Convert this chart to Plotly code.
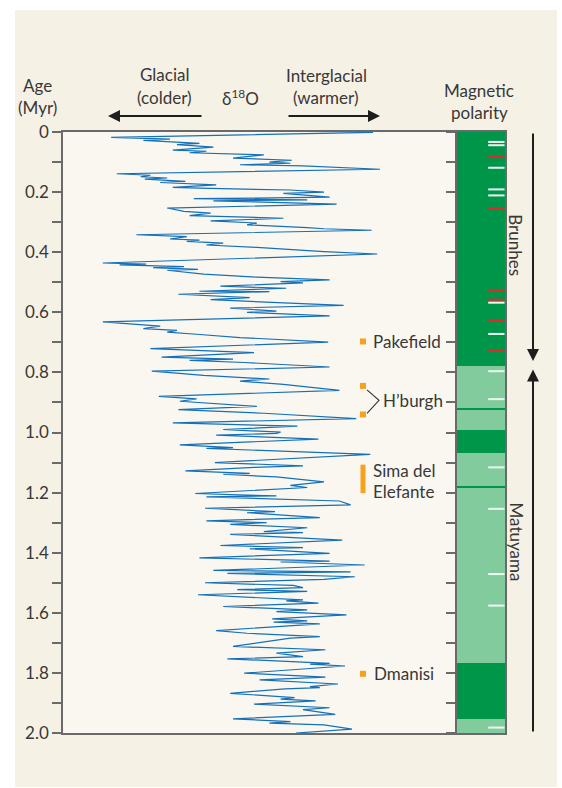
import plotly.graph_objects as go

# ---------------- data ----------------
# benthic d18O stack: age (kyr) and d18O (per mil, higher = glacial)
age_kyr = [1, 18, 24, 28, 38, 42, 50, 60, 64, 69, 76, 87, 94, 100, 104, 109, 113, 124,
           139, 144, 149, 153, 157, 164, 168, 176, 184, 187, 193, 200, 204, 217, 222, 226, 229, 240,
           253, 264, 270, 278, 287, 296, 303, 309, 318, 322, 327,
           342, 348, 356, 360, 364, 370, 376, 384, 398, 406,
           436, 440, 442, 448, 451, 457, 460, 473, 479, 483, 492, 498, 502, 513, 520, 530, 531,
           540, 551, 558, 577, 586, 596, 600, 612,
           632, 646, 654, 660, 666, 673, 684, 699, 721, 734, 749, 756, 760, 767, 782,
           796, 810, 822, 829, 840, 860, 880, 888, 896, 913, 924, 936, 954,
           968, 979, 990, 999,
           1003, 1009, 1022, 1041, 1050, 1053, 1073, 1100, 1111, 1116, 1128, 1136, 1139, 1148,
           1164, 1176, 1183, 1203, 1211, 1214, 1228, 1241, 1252, 1263, 1267, 1283, 1294, 1300,
           1306, 1317, 1330, 1333, 1339, 1358, 1376, 1383, 1387, 1402, 1417, 1428, 1431, 1441,
           1459, 1464, 1469, 1480, 1489, 1500, 1509,
           1516, 1523, 1529, 1540, 1557, 1560, 1568, 1579, 1590, 1596, 1607, 1620, 1627, 1631,
           1637, 1659, 1668, 1679, 1684, 1712, 1723, 1734, 1746, 1753, 1768, 1771, 1777, 1801,
           1814, 1823, 1837, 1846, 1849, 1853, 1868, 1882, 1887, 1893, 1904, 1916, 1922, 1938,
           1953, 1962, 1967, 1973, 1987, 2000]
d18o = [3.15, 5.02, 4.60, 4.79, 4.39, 4.55, 4.29, 4.58, 4.34, 4.46, 3.93, 4.15, 3.73, 3.89, 3.74, 4.10, 3.65, 3.10,
        4.98, 4.74, 4.81, 4.62, 4.78, 4.49, 4.67, 4.27, 4.58, 4.39, 3.74, 3.50, 3.79, 3.46, 4.43, 3.62, 4.29, 3.41,
        4.62, 4.50, 4.31, 4.46, 3.79, 4.31, 3.98, 4.05, 3.62, 3.50, 3.16,
        4.84, 4.48, 4.60, 4.39, 4.48, 4.22, 4.34, 3.98, 3.50, 3.12,
        5.08, 4.77, 4.96, 4.50, 4.72, 4.40, 4.62, 4.36, 4.17, 3.98, 3.46, 3.81, 3.65, 4.24, 3.77, 4.39, 3.89,
        4.54, 4.03, 4.31, 3.36, 4.17, 3.84, 4.05, 3.46,
        5.08, 4.67, 4.79, 4.55, 4.62, 4.41, 4.10, 3.47, 4.74, 4.00, 4.66, 4.15, 4.46, 4.07, 3.46,
        4.73, 4.36, 3.89, 4.10, 3.79, 3.39, 4.68, 4.41, 4.53, 3.98, 4.54, 3.93, 3.27,
        4.58, 3.69, 4.22, 3.81,
        3.84, 4.27, 3.54, 4.53, 4.15, 4.34, 3.17, 4.28, 3.65, 4.00, 4.49, 4.03, 4.22, 3.84,
        3.50, 3.74, 3.62, 4.42, 3.84, 4.34, 3.39, 3.31, 4.35, 3.85, 4.05, 3.53, 4.34, 3.91,
        4.17, 3.62, 3.93, 3.65, 4.17, 3.37, 4.24, 3.65, 4.03, 3.46, 4.39, 3.46, 3.81, 3.21,
        4.29, 3.31, 4.19, 3.28, 3.50, 4.35, 3.72,
        3.65, 4.12, 3.62, 4.40, 3.65, 3.77, 3.54, 4.22, 3.62, 3.84, 3.34, 3.87, 3.62, 3.86,
        3.53, 4.27, 4.05, 3.53, 3.74, 4.15, 3.49, 3.84, 3.65, 4.19, 3.46, 3.60, 3.35, 4.07,
        3.49, 3.96, 3.40, 3.60, 3.53, 3.78, 4.17, 3.71, 3.81, 3.56, 4.00, 3.46, 3.65, 3.42,
        4.15, 3.74, 3.89, 3.50, 3.30, 3.70]

# magnetic polarity (Myr): chron start, end, normal polarity?
chron_start = [0.00, 0.78, 0.920, 0.993, 1.069, 1.179, 1.767, 1.952]
chron_end = [0.78, 2.00, 0.926, 1.069, 1.767, 1.185, 1.952, 2.00]
chron_normal = [True, False, True, True, False, True, True, False]

# short excursion marks (Myr)
white_marks = [0.033, 0.044, 0.119, 0.191, 0.211, 0.568, 0.672, 0.796, 0.889,
               1.116, 1.254, 1.471, 1.576, 1.982]
red_marks = [0.080, 0.254, 0.527, 0.558, 0.628, 0.727]

# hominin sites (Myr)
site_points_names = ["Pakefield", "H'burgh a", "H'burgh b", "Dmanisi"]
site_points_age = [0.697, 0.845, 0.940, 1.803]
sima_age = [1.107, 1.202]
hburgh_bracket_age = [0.858, 0.893, 0.936]

age_ticks = [0, 0.2, 0.4, 0.6, 0.8, 1.0, 1.2, 1.4, 1.6, 1.8, 2.0]
age_ticktext = ["0", "0.2", "0.4", "0.6", "0.8", "1.0", "1.2", "1.4", "1.6", "1.8", "2.0"]
age_minor = [0.1, 0.3, 0.5, 0.7, 0.9, 1.1, 1.3, 1.5, 1.7, 1.9]

# ---------------- layout geometry (pixels) ----------------
W, H = 562, 788
L, R, T, B = 63, 505, 132, 733
SPLIT = 457
FONT = "Lato, 'Open Sans', sans-serif"
FS = 17
TXT = "#383838"
DARK_G = "#00964a"
LIGHT_G = "#82cb9d"
ORANGE = "#f7a21e"
BLUE = "#1470b8"


def px(x):
    return (x - L) / (R - L)


def py(y):
    return (B - y) / (B - T)


def d_at(xpix):  # d18O value at a horizontal pixel (curve axis scale)
    return 5.1 - (xpix - 100) / 140


split = px(SPLIT)

fig = go.Figure()

# d18O curve
fig.add_trace(go.Scatter(
    x=d18o, y=[a / 1000 for a in age_kyr], mode="lines",
    line=dict(color=BLUE, width=1.2), xaxis="x", yaxis="y", hoverinfo="skip"))

# polarity column
fig.add_trace(go.Bar(
    x=[0.5] * len(chron_start), base=chron_start,
    y=[e - s for s, e in zip(chron_start, chron_end)],
    width=1, marker=dict(color=[DARK_G if n else LIGHT_G for n in chron_normal], line=dict(width=0)),
    xaxis="x2", yaxis="y2", hoverinfo="skip"))


def seg(vals):
    xs, ys = [], []
    for v in vals:
        xs += [0.65, 0.99, None]
        ys += [v, v, None]
    return xs, ys


wx, wy = seg(white_marks)
fig.add_trace(go.Scatter(x=wx, y=wy, mode="lines", line=dict(color="#eef7f1", width=2),
                         xaxis="x2", yaxis="y2", hoverinfo="skip"))
rx, ry = seg(red_marks)
fig.add_trace(go.Scatter(x=rx, y=ry, mode="lines", line=dict(color="#e8262c", width=2),
                         xaxis="x2", yaxis="y2", hoverinfo="skip"))

# sites
SITE_D = d_at(363)
fig.add_trace(go.Scatter(
    x=[SITE_D] * len(site_points_age), y=site_points_age, mode="markers",
    marker=dict(symbol="square", size=6, color=ORANGE), xaxis="x", yaxis="y", hoverinfo="skip"))
fig.add_trace(go.Scatter(
    x=[SITE_D, SITE_D], y=sima_age, mode="lines", line=dict(color=ORANGE, width=5),
    xaxis="x", yaxis="y", hoverinfo="skip"))
fig.add_trace(go.Scatter(
    x=[d_at(367), d_at(379), d_at(367)], y=hburgh_bracket_age, mode="lines",
    line=dict(color="#333333", width=1.1), xaxis="x", yaxis="y", hoverinfo="skip"))

ann = []


def text(x, y, s, xanchor="center", size=FS, yref="paper", angle=0):
    ann.append(dict(x=px(x), y=(py(y) if yref == "paper" else y), xref="paper", yref=yref,
                    text=s, showarrow=False, xanchor=xanchor, yanchor="middle", textangle=angle,
                    font=dict(family=FONT, size=size, color=TXT)))


text(37, 85, "Age")
text(37, 107, "(Myr)")
text(164, 74, "Glacial")
text(164, 97, "(colder)")
text(240, 97, "δ<sup>18</sup>O")
text(326, 75, "Interglacial")
text(325, 97, "(warmer)")
text(479, 90, "Magnetic")
text(479, 112, "polarity")

text(371, 0.697, "Pakefield", xanchor="left", yref="y")
text(381, 0.895, "H’burgh", xanchor="left", yref="y")
text(371, 1.128, "Sima del", xanchor="left", yref="y")
text(371, 1.196, "Elefante", xanchor="left", yref="y")
text(372, 1.803, "Dmanisi", xanchor="left", yref="y")

text(516, 0.377, "Brunhes", yref="y", angle=90)
text(516, 1.363, "Matuyama", yref="y", angle=90)

# header arrows
for tip, tail in [(108, 203), (380, 287)]:
    ann.append(dict(x=px(tip), y=py(116), xref="paper", yref="paper", ax=tail - tip, ay=0,
                    axref="pixel", ayref="pixel", text="", showarrow=True, arrowhead=2,
                    arrowsize=1.2, arrowwidth=2, arrowcolor="#1e1e1e"))
# chron arrows
for tip, tail in [(0.762, 0.0), (0.79, 2.0)]:
    ann.append(dict(x=px(533), y=tip, xref="paper", yref="y", ax=0, ay=tail,
                    axref="pixel", ayref="y", text="", showarrow=True, arrowhead=2,
                    arrowsize=1.2, arrowwidth=2, arrowcolor="#1e1e1e"))

shapes = [
    dict(type="rect", xref="paper", yref="paper", x0=px(15), x1=px(557), y0=py(787), y1=py(10),
         fillcolor="#f6f1e5", line=dict(width=0), layer="below"),
    dict(type="rect", xref="paper", yref="paper", x0=0, x1=split, y0=0, y1=1,
         fillcolor="#faf7f0", line=dict(width=0), layer="below"),
]

AX = "#6a6a6a"
fig.update_layout(
    width=W, height=H, margin=dict(l=L, r=W - R, t=T, b=H - B, pad=0),
    paper_bgcolor="white", plot_bgcolor="#faf7f0", showlegend=False,
    barmode="overlay", bargap=0,
    font=dict(family=FONT, size=FS, color=TXT),
    xaxis=dict(domain=[0, split], range=[d_at(L), d_at(SPLIT)], showgrid=False, zeroline=False,
               showticklabels=False, ticks="", showline=True, mirror=True, linecolor=AX, linewidth=1.5),
    xaxis2=dict(domain=[split, 1], range=[0, 1], showgrid=False, zeroline=False,
                showticklabels=False, ticks="", showline=True, mirror=True, linecolor=AX, linewidth=1.5),
    yaxis=dict(range=[2.0, 0], anchor="x", showgrid=False, zeroline=False,
               tickmode="array", tickvals=age_ticks, ticktext=age_ticktext,
               ticks="outside", ticklen=9, tickwidth=1.5, tickcolor=AX,
               minor=dict(tickmode="array", tickvals=age_minor, ticks="outside", ticklen=9,
                          tickwidth=1.5, tickcolor=AX),
               showline=True, linecolor=AX, linewidth=1.5,
               tickfont=dict(family=FONT, size=FS, color=TXT)),
    yaxis2=dict(range=[2.0, 0], anchor="x2", matches="y", showgrid=False, zeroline=False,
                tickmode="array", tickvals=age_ticks, showticklabels=False,
                ticks="outside", ticklen=9, tickwidth=1.5, tickcolor=AX,
                minor=dict(tickmode="array", tickvals=age_minor, ticks="outside", ticklen=9,
                           tickwidth=1.5, tickcolor=AX),
                showline=True, mirror=True, linecolor=AX, linewidth=1.5),
    annotations=ann, shapes=shapes,
)

fig.write_html("out.html", config={"displayModeBar": False},
               post_script="document.body.style.margin='0px';")
